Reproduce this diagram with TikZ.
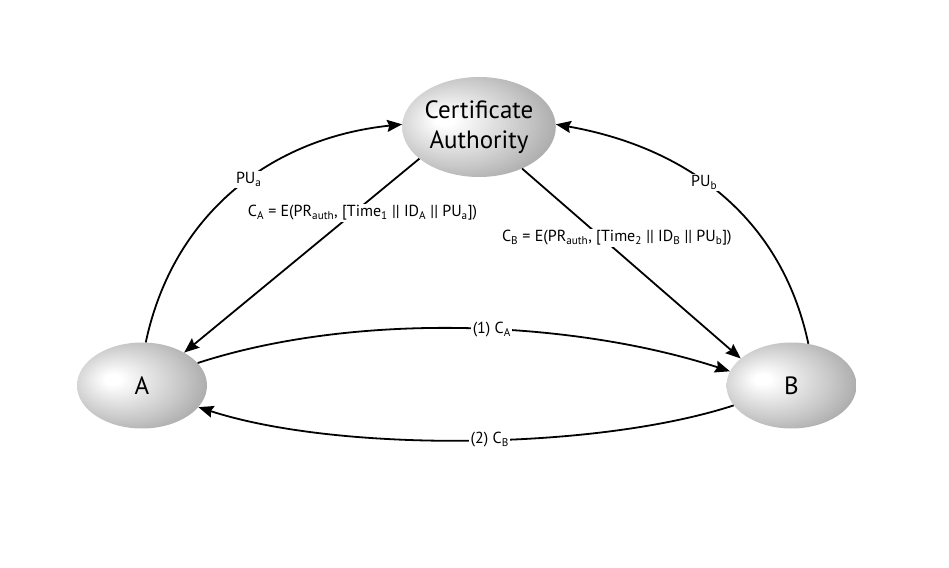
\documentclass[tikz,border=0pt]{standalone}
\usepackage{fontspec}
\setmainfont{PT Sans}
\usetikzlibrary{shapes.geometric,arrows.meta}
\pgfdeclareradialshading{softball}{\pgfpoint{-12bp}{4bp}}{color(0bp)=(white); color(3bp)=(white); color(22bp)=(black!22); color(40bp)=(black!45); color(50bp)=(black!60)}
\tikzset{
  entity/.style={ellipse, shading=softball, draw=none, inner sep=0pt, align=center, font=\fontsize{25}{30}\selectfont},
  conn/.style={line width=1.8pt, -{Stealth[length=15pt,width=12pt,inset=2pt]}},
  lbl/.style={fill=white, inner sep=1.5pt, font=\fontsize{16}{18}\selectfont}
}
\begin{document}
\begin{tikzpicture}[x=1pt,y=1pt]
\useasboundingbox (0,0) rectangle (949,567);
\node[entity, minimum width=152pt, minimum height=100pt] (CA) at (479,440) {Certificate\\Authority};
\node[entity, minimum width=130pt, minimum height=86pt] (A) at (142,181.5) {A};
\node[entity, minimum width=130pt, minimum height=86pt] (B) at (791.5,181.5) {B};

\draw[conn] (A.85) to[out=78,in=186,looseness=1.0] node[lbl,pos=0.55] (pua) {PU\textsubscript{a}} (CA.178);
\draw[conn] (B.68) to[out=102,in=-10,looseness=1.0] node[lbl,pos=0.56] (pub) {PU\textsubscript{b}} (CA.2);
\draw[conn] (CA.208) -- node[lbl,pos=0.28,xshift=9pt] (ca) {C\textsubscript{A} = E(PR\textsubscript{auth}, [Time\textsubscript{1} || ID\textsubscript{A} || PU\textsubscript{a}])} (A.38);
\draw[conn] (CA.-44) -- node[lbl,pos=0.365,xshift=15pt] (cb) {C\textsubscript{B} = E(PR\textsubscript{auth}, [Time\textsubscript{2} || ID\textsubscript{B} || PU\textsubscript{b}])} (B.152);
\draw[conn] (A.22) to[out=18,in=162,looseness=0.8] node[lbl,pos=0.55] (m1) {(1) C\textsubscript{A}} (B.167);
\draw[conn] (B.199) to[out=198,in=-18,looseness=0.7] node[lbl,pos=0.46] (m2) {(2) C\textsubscript{B}} (A.-21);
\end{tikzpicture}
\end{document}
